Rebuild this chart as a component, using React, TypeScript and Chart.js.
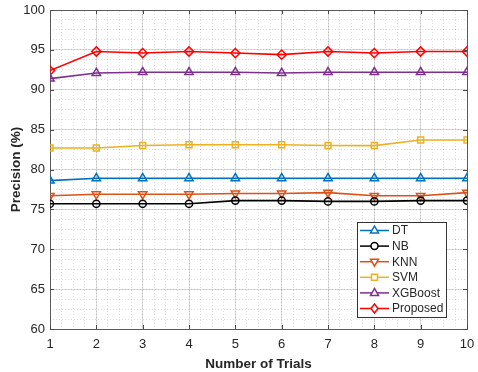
import React, { useEffect, useRef } from "react";
import { Chart, registerables } from "chart.js";

Chart.register(...registerables);

const trials = [1, 2, 3, 4, 5, 6, 7, 8, 9, 10];
const dtValues = [78.6, 78.9, 78.9, 78.9, 78.9, 78.9, 78.9, 78.9, 78.9, 78.9];
const nbValues = [75.7, 75.7, 75.7, 75.7, 76.1, 76.1, 76.0, 76.0, 76.1, 76.1];
const knnValues = [76.7, 76.9, 76.9, 76.9, 77.0, 77.0, 77.1, 76.7, 76.7, 77.1];
const svmValues = [82.7, 82.7, 83.0, 83.1, 83.1, 83.1, 83.0, 83.0, 83.7, 83.7];
const xgbValues = [91.4, 92.1, 92.2, 92.2, 92.2, 92.1, 92.2, 92.2, 92.2, 92.2];
const proposedValues = [92.4, 94.8, 94.6, 94.8, 94.6, 94.4, 94.8, 94.6, 94.8, 94.8];
const seriesNames = ["DT", "NB", "KNN", "SVM", "XGBoost", "Proposed"];

const FONT = "'Liberation Sans', Arial, sans-serif";
const TEXT = "#262626";

type Marker = "tri" | "circle" | "tridown" | "square" | "diamond";

const styles: { color: string; marker: Marker }[] = [
  { color: "#0072BD", marker: "tri" },
  { color: "#000000", marker: "circle" },
  { color: "#D95319", marker: "tridown" },
  { color: "#EDB120", marker: "square" },
  { color: "#7E2F8E", marker: "tri" },
  { color: "#FF0000", marker: "diamond" },
];

function pointOpts(m: Marker) {
  switch (m) {
    case "tri":
      return { pointStyle: "triangle", pointRadius: 4.8, pointRotation: 0 };
    case "tridown":
      return { pointStyle: "triangle", pointRadius: 4.8, pointRotation: 180 };
    case "circle":
      return { pointStyle: "circle", pointRadius: 3.6, pointRotation: 0 };
    case "square":
      return { pointStyle: "rect", pointRadius: 4.2, pointRotation: 0 };
    default:
      return { pointStyle: "rectRot", pointRadius: 4.6, pointRotation: 0 };
  }
}

function drawMarker(ctx: CanvasRenderingContext2D, m: Marker, x: number, y: number) {
  ctx.beginPath();
  if (m === "tri") {
    ctx.moveTo(x, y - 4.5);
    ctx.lineTo(x + 4, y + 2.5);
    ctx.lineTo(x - 4, y + 2.5);
    ctx.closePath();
  } else if (m === "tridown") {
    ctx.moveTo(x, y + 4.5);
    ctx.lineTo(x + 4, y - 2.5);
    ctx.lineTo(x - 4, y - 2.5);
    ctx.closePath();
  } else if (m === "circle") {
    ctx.arc(x, y, 3.5, 0, Math.PI * 2);
  } else if (m === "square") {
    ctx.rect(x - 3, y - 3, 6, 6);
  } else {
    ctx.moveTo(x, y - 4.5);
    ctx.lineTo(x + 3.5, y);
    ctx.lineTo(x, y + 4.5);
    ctx.lineTo(x - 3.5, y);
    ctx.closePath();
  }
  ctx.fillStyle = "#ffffff";
  ctx.fill();
  ctx.stroke();
}

const tickMarksPlugin = {
  id: "innerTicks",
  afterDatasetsDraw(chart: any) {
    const ctx: CanvasRenderingContext2D = chart.ctx;
    const area = chart.chartArea;
    const xs = chart.scales.x;
    const ys = chart.scales.y;
    ctx.save();
    ctx.strokeStyle = "#4a4a4a";
    ctx.lineWidth = 1;
    ctx.beginPath();
    xs.ticks.forEach((t: any) => {
      const px = Math.round(xs.getPixelForValue(t.value)) + 0.5;
      ctx.moveTo(px, area.bottom);
      ctx.lineTo(px, area.bottom - 4);
      ctx.moveTo(px, area.top);
      ctx.lineTo(px, area.top + 4);
    });
    ys.ticks.forEach((t: any) => {
      const py = Math.round(ys.getPixelForValue(t.value)) + 0.5;
      ctx.moveTo(area.left, py);
      ctx.lineTo(area.left + 4, py);
      ctx.moveTo(area.right, py);
      ctx.lineTo(area.right - 4, py);
    });
    ctx.stroke();
    ctx.restore();
  },
};

const legendPlugin = {
  id: "boxLegend",
  afterDraw(chart: any) {
    const ctx: CanvasRenderingContext2D = chart.ctx;
    const area = chart.chartArea;
    const w = 89;
    const h = 95;
    const right = area.right - 21;
    const bottom = area.bottom - 12;
    const left = right - w;
    const top = bottom - h;
    ctx.save();
    ctx.fillStyle = "#ffffff";
    ctx.fillRect(left, top, w, h);
    ctx.strokeStyle = "#333333";
    ctx.lineWidth = 1;
    ctx.strokeRect(left + 0.5, top + 0.5, w, h);
    ctx.font = `12px ${FONT}`;
    ctx.textBaseline = "middle";
    ctx.textAlign = "left";
    seriesNames.forEach((name, i) => {
      const y = top + 8.5 + i * 15.6;
      const st = styles[i];
      ctx.strokeStyle = st.color;
      ctx.lineWidth = 1.5;
      ctx.beginPath();
      ctx.moveTo(left + 3, y);
      ctx.lineTo(left + 32, y);
      ctx.stroke();
      drawMarker(ctx, st.marker, left + 17.5, y);
      ctx.fillStyle = TEXT;
      ctx.fillText(name, left + 35, y + 0.5);
    });
    ctx.restore();
  },
};

export default function App() {
  const ref = useRef<HTMLCanvasElement | null>(null);

  useEffect(() => {
    document.body.style.margin = "0";
    const seriesValues = [dtValues, nbValues, knnValues, svmValues, xgbValues, proposedValues];
    const datasets = seriesNames.map((name, i) => ({
      label: name,
      data: trials.map((t, j) => ({ x: t, y: seriesValues[i][j] })),
      borderColor: styles[i].color,
      backgroundColor: "rgba(255,255,255,0)",
      pointBackgroundColor: "rgba(255,255,255,0)",
      pointBorderColor: styles[i].color,
      pointBorderWidth: 1.5,
      borderWidth: 1.6,
      ...pointOpts(styles[i].marker),
      xAxisID: "x",
      yAxisID: "y",
    }));

    const chart = new Chart(ref.current as HTMLCanvasElement, {
      type: "line",
      data: { datasets: datasets as any },
      plugins: [tickMarksPlugin, legendPlugin],
      options: {
        animation: false,
        responsive: false,
        layout: { padding: { left: 0, right: 0, top: 0, bottom: 0 }, autoPadding: false },
        plugins: { legend: { display: false }, tooltip: { enabled: false } },
        scales: {
          x2: {
            type: "linear",
            position: "top",
            min: 1,
            max: 10,
            ticks: { display: false, stepSize: 0.25 },
            grid: { color: "rgba(0,0,0,0.12)", lineWidth: 1, drawTicks: false },
            border: { display: true, color: "#5a5a5a", dash: [1, 2] },
            afterFit(s: any) {
              s.height = 10;
              s.paddingLeft = 0;
              s.paddingRight = 0;
            },
          },
          y2: {
            type: "linear",
            position: "right",
            min: 60,
            max: 100,
            ticks: { display: false, stepSize: 1.25 },
            grid: { color: "rgba(0,0,0,0.12)", lineWidth: 1, drawTicks: false },
            border: { display: true, color: "#5a5a5a", dash: [1, 2] },
            afterFit(s: any) {
              s.width = 11;
              s.paddingTop = 0;
              s.paddingBottom = 0;
            },
          },
          x: {
            type: "linear",
            position: "bottom",
            min: 1,
            max: 10,
            ticks: {
              stepSize: 1,
              padding: 8,
              color: TEXT,
              font: { family: FONT, size: 13 },
              maxRotation: 0,
            },
            grid: { color: "rgba(0,0,0,0.14)", lineWidth: 1, drawTicks: false },
            border: { display: true, color: "#5a5a5a", width: 1 },
            title: {
              display: true,
              text: "Number of Trials",
              color: TEXT,
              font: { family: FONT, size: 13.5, weight: "bold" },
              padding: { top: 2, bottom: 0 },
            },
            afterFit(s: any) {
              s.height = 43;
              s.paddingLeft = 0;
              s.paddingRight = 0;
            },
          },
          y: {
            type: "linear",
            position: "left",
            min: 60,
            max: 100,
            ticks: {
              stepSize: 5,
              padding: 5,
              color: TEXT,
              font: { family: FONT, size: 13 },
            },
            grid: { color: "rgba(0,0,0,0.14)", lineWidth: 1, drawTicks: false },
            border: { display: true, color: "#5a5a5a", width: 1 },
            title: {
              display: true,
              text: "Precision (%)",
              color: TEXT,
              font: { family: FONT, size: 13.5, weight: "bold" },
              padding: { top: 8, bottom: 0 },
            },
            afterFit(s: any) {
              s.width = 50;
              s.paddingTop = 0;
              s.paddingBottom = 0;
            },
          },
        },
      } as any,
    });
    return () => chart.destroy();
  }, []);

  return (
    <div style={{ position: "fixed", left: 0, top: 0, width: 478, height: 372, background: "#ffffff" }}>
      <canvas ref={ref} width={478} height={372} style={{ width: 478, height: 372 }} />
    </div>
  );
}
